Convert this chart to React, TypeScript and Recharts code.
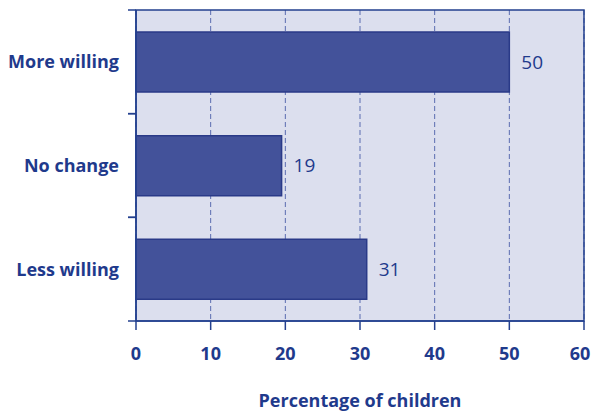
import React from "react";
import { BarChart, Bar, XAxis, YAxis, CartesianGrid, ReferenceArea, LabelList } from "recharts";

const categories = ["More willing", "No change", "Less willing"];
const labelValues = [50, 19, 31];
const barLengths = [50, 19.5, 30.9];
const xTicks = [0, 10, 20, 30, 40, 50, 60];

const data = categories.map((c, i) => ({ name: c, value: barLengths[i], label: labelValues[i] }));

const TEXT = "#1f3a8c";
const AXIS = "#23408f";
const FONT = "'Open Sans', sans-serif";
const Y_TICK_MARGIN = 9;
const Y_TICK_LEN = 8;

const XTick = (props: any) => {
  const { x, y, payload } = props;
  const isLast = payload.value === xTicks[xTicks.length - 1];
  return (
    <text
      x={isLast ? x - 4 : x}
      y={y}
      dy="0.71em"
      textAnchor="middle"
      fill={TEXT}
      fontSize={18}
      fontWeight={700}
      fontFamily={FONT}
    >
      {payload.value}
    </text>
  );
};

const YTick = (props: any) => {
  const { x, y, payload } = props;
  const half = payload && typeof payload.offset === "number" && payload.offset > 0 ? payload.offset : 311 / 6;
  const axisX = x + Y_TICK_MARGIN;
  return (
    <g>
      <line x1={axisX - Y_TICK_LEN} x2={axisX} y1={y - half} y2={y - half} stroke={AXIS} strokeWidth={1.5} />
      <line x1={axisX - Y_TICK_LEN} x2={axisX} y1={y + half} y2={y + half} stroke={AXIS} strokeWidth={1.5} />
      <text
        x={x - Y_TICK_LEN}
        y={y}
        dy="0.355em"
        textAnchor="end"
        fill={TEXT}
        fontSize={18}
        fontWeight={700}
        fontFamily={FONT}
      >
        {payload.value}
      </text>
    </g>
  );
};

export default function App() {
  return (
    <div style={{ position: "absolute", left: 0, top: 0, background: "#fff" }}>
      <BarChart
        width={591}
        height={415}
        data={data}
        layout="vertical"
        margin={{ top: 10, right: 7, bottom: 0, left: 0 }}
        barCategoryGap={22}
      >
        <CartesianGrid
          horizontal={false}
          vertical={true}
          strokeDasharray="5 3"
          stroke="#5b6cb0"
          fill="#dcdfee"
          fillOpacity={1}
        />
        <XAxis
          type="number"
          domain={[0, 60]}
          ticks={xTicks}
          interval={0}
          height={94}
          axisLine={{ stroke: AXIS, strokeWidth: 1.5 }}
          tickLine={{ stroke: AXIS, strokeWidth: 1.5 }}
          tickSize={9}
          tickMargin={17}
          tick={<XTick />}
          label={{
            value: "Percentage of children",
            position: "insideBottom",
            offset: 8,
            fill: TEXT,
            fontSize: 18,
            fontWeight: 700,
            fontFamily: FONT,
          }}
        />
        <YAxis
          type="category"
          dataKey="name"
          width={136}
          axisLine={{ stroke: AXIS, strokeWidth: 1.5 }}
          tickLine={false}
          tickSize={0}
          tickMargin={Y_TICK_MARGIN}
          interval={0}
          tick={<YTick />}
        />
        <ReferenceArea
          x1={0}
          x2={60}
          fill="none"
          fillOpacity={0}
          stroke={AXIS}
          strokeWidth={1.5}
        />
        <Bar dataKey="value" fill="#43529a" stroke="#2a3a88" strokeWidth={1.5} isAnimationActive={false}>
          <LabelList
            dataKey="label"
            position="right"
            offset={12}
            fill={TEXT}
            fontSize={19}
            fontFamily={FONT}
          />
        </Bar>
      </BarChart>
    </div>
  );
}
